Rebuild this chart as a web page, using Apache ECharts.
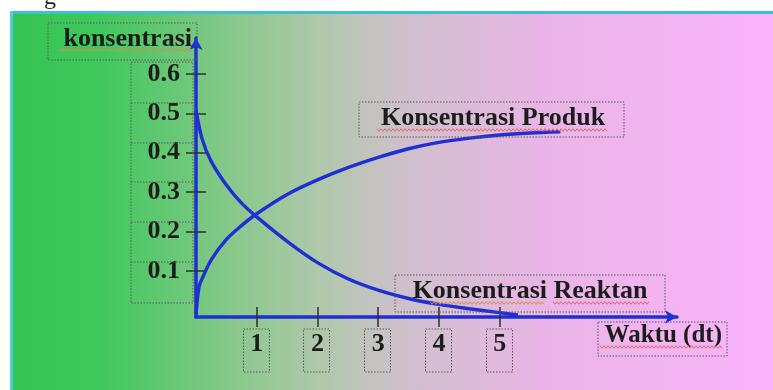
<!DOCTYPE html>
<html><head><meta charset="utf-8">
<script src="https://cdn.jsdelivr.net/npm/echarts@6/dist/echarts.min.js"></script>
<style>html,body{margin:0;padding:0;background:#fff}#c{width:773px;height:390px}</style>
</head><body><div id="c"></div>
<script>
// ---- data ----
const timeReaktan = [0, 0.1, 0.25, 0.5, 0.75, 1, 1.5, 2, 2.5, 3, 3.5, 4, 4.5, 5, 5.3];
const valReaktan  = [0.509, 0.435, 0.378, 0.318, 0.272, 0.237, 0.175, 0.121, 0.080, 0.051, 0.030, 0.015, 0.004, -0.006, -0.012];
const timeProduk  = [0, 0.05, 0.1, 0.25, 0.5, 0.75, 1, 1.5, 2, 2.5, 3, 3.5, 4, 4.5, 5, 5.5, 6];
const valProduk   = [-0.01, 0.06, 0.08, 0.128, 0.180, 0.215, 0.245, 0.294, 0.331, 0.362, 0.388, 0.410, 0.426, 0.437, 0.445, 0.450, 0.453];
const xTicks = [1, 2, 3, 4, 5];
const xTickLabels = ['1', '2', '3', '4', '5'];
const yTicks = [0.1, 0.2, 0.3, 0.4, 0.5, 0.6];
const yTickLabels = ['0.1', '0.2', '0.3', '0.4', '0.5', '0.6'];
const yAxisName = 'konsentrasi';
const xAxisName = 'Waktu (dt)';
const labelProduk = 'Konsentrasi Produk';
const labelReaktan = 'Konsentrasi Reaktan';

const FONT = '"Liberation Serif", "Times New Roman", serif';
const TXT = '#1b1d1b';
const BLUE = '#1f2fd4';
const TICK = '#2a322a';

const chart = echarts.init(document.getElementById('c'), null, {renderer: 'canvas'});

function zip(a, b) { return a.map((v, i) => [v, b[i]]); }

const xMin = 0, xMax = 7.92, yMin = -0.017, yMax = 0.691;

chart.setOption({
  animation: false,
  backgroundColor: '#ffffff',
  grid: {left: 196, top: 38, width: 481, height: 279, containLabel: false},
  xAxis: [{
    type: 'value', min: xMin, max: xMax, position: 'bottom',
    axisLine: {show: true, onZero: false, symbol: ['none', 'arrow'], symbolSize: [10, 12],
      lineStyle: {color: BLUE, width: 3.5}},
    axisTick: {show: true, customValues: xTicks, length: 10, lineStyle: {color: TICK, width: 1.5}},
    axisLabel: {show: true, customValues: xTicks, margin: 14,
      formatter: v => xTickLabels[xTicks.indexOf(v)] ?? '',
      fontFamily: FONT, fontWeight: 'bold', fontSize: 26, color: TXT, lineHeight: 26},
    splitLine: {show: false},
    name: xAxisName, nameLocation: 'end', nameGap: 45,
    nameTextStyle: {fontFamily: FONT, fontWeight: 'bold', fontSize: 25, color: TXT,
      align: 'right', verticalAlign: 'top', lineHeight: 26, padding: [6, 0, 0, 0]}
  }, {
    type: 'value', min: xMin, max: xMax, position: 'bottom',
    axisLine: {show: false, onZero: false},
    axisTick: {show: true, inside: true, customValues: xTicks, length: 10, lineStyle: {color: TICK, width: 1.5}},
    axisLabel: {show: false}, splitLine: {show: false}
  }],
  yAxis: [{
    type: 'value', min: yMin, max: yMax, position: 'left',
    axisLine: {show: true, onZero: false, symbol: ['none', 'arrow'], symbolSize: [10, 12],
      lineStyle: {color: BLUE, width: 3.5}},
    axisTick: {show: true, customValues: yTicks, length: 10, lineStyle: {color: TICK, width: 1.5}},
    axisLabel: {show: true, customValues: yTicks, margin: 16,
      formatter: v => yTickLabels[yTicks.findIndex(t => Math.abs(t - v) < 1e-9)] ?? '',
      fontFamily: FONT, fontWeight: 'bold', fontSize: 26, color: TXT, lineHeight: 26,
      padding: [8, 0, 0, 0]},
    splitLine: {show: false},
    name: yAxisName, nameLocation: 'end', nameGap: -1,
    nameTextStyle: {fontFamily: FONT, fontWeight: 'bold', fontSize: 26, color: TXT,
      align: 'right', verticalAlign: 'middle', padding: [0, 4, 0, 0]}
  }, {
    type: 'value', min: yMin, max: yMax, position: 'left',
    axisLine: {show: false, onZero: false},
    axisTick: {show: true, inside: true, customValues: yTicks, length: 10, lineStyle: {color: TICK, width: 1.5}},
    axisLabel: {show: false}, splitLine: {show: false}
  }],
  series: [{
    name: labelReaktan, type: 'line', xAxisIndex: 0, yAxisIndex: 0,
    data: zip(timeReaktan, valReaktan), smooth: 0.3, showSymbol: false, symbol: 'none',
    lineStyle: {color: BLUE, width: 3.4}, z: 3
  }, {
    name: labelProduk, type: 'line', xAxisIndex: 0, yAxisIndex: 0,
    data: zip(timeProduk, valProduk), smooth: 0.3, showSymbol: false, symbol: 'none',
    lineStyle: {color: BLUE, width: 3.4}, z: 3
  }]
});

// ---- decorations (background, frames, dotted text boxes, spell-check squiggles) ----
function wave(x0, x1, y, amp, period) {
  const pts = [];
  let up = true;
  for (let x = x0; x <= x1; x += period / 2) { pts.push([x, y + (up ? -amp : amp)]); up = !up; }
  return pts;
}
const DOT = {stroke: '#5a5a5a', lineWidth: 1, lineDash: [1.5, 1.5], fill: null};
function box(x, y, w, h) { return {type: 'rect', shape: {x, y, width: w, height: h}, style: Object.assign({}, DOT), z: 5, silent: true}; }
function hline(x0, x1, y) { return {type: 'line', shape: {x1: x0, y1: y, x2: x1, y2: y}, style: Object.assign({}, DOT), z: 5, silent: true}; }
function squiggle(x0, x1, y, color) { return {type: 'polyline', shape: {points: wave(x0, x1, y, 1.3, 4)}, style: {stroke: color, lineWidth: 1, fill: null}, z: 6, silent: true}; }

const g = [];
g.push({type: 'rect', shape: {x: 12, y: 13, width: 761, height: 377}, z: -100, silent: true,
  style: {fill: new echarts.graphic.LinearGradient(0, 0, 1, 0, [
    {offset: 0, color: '#35c553'}, {offset: 0.12, color: '#40c85d'}, {offset: 0.3, color: '#8cc88e'},
    {offset: 0.4, color: '#aec8aa'}, {offset: 0.52, color: '#d0c0cc'}, {offset: 0.7, color: '#e9b5e7'},
    {offset: 1, color: '#fbb3fb'}])}});
g.push({type: 'rect', shape: {x: 10, y: 11, width: 763, height: 3}, style: {fill: '#3fbfcf'}, z: -99, silent: true});
g.push({type: 'rect', shape: {x: 10, y: 11, width: 3, height: 379}, style: {fill: '#4fcfdc'}, z: -99, silent: true});
g.push({type: 'text', x: 44, y: -14, style: {text: 'g', font: '24px ' + FONT, fill: '#222'}, z: -98, silent: true});

// y-axis name box & label column boxes
g.push(box(48, 23, 149, 37));
g.push(squiggle(58, 192, 50, '#d2904a'));
g.push(box(131, 62, 62, 241));
[103, 143, 182, 222, 262].forEach(y => g.push(hline(131, 193, y)));

// x tick label boxes, positioned from the axis scale
xTicks.forEach(v => {
  const px = chart.convertToPixel({xAxisIndex: 0}, v);
  g.push(box(Math.round(px) - 13.5, 329, 26, 43));
});
// x axis name box
g.push(box(598, 322, 129, 34));
g.push(squiggle(600, 722, 347, '#e06a6a'));

// annotations
g.push(box(359, 102, 265, 35));
g.push({type: 'text', x: 493, y: 118, z: 7, silent: true,
  style: {text: labelProduk, font: 'bold 26px ' + FONT, fill: TXT, align: 'center', verticalAlign: 'middle', textAlign: 'center', textVerticalAlign: 'middle'}});
g.push(squiggle(377, 607, 130, '#e06a6a'));

g.push(box(395, 275, 270, 37));
g.push({type: 'text', x: 530, y: 291, z: 7, silent: true,
  style: {text: labelReaktan, font: 'bold 26px ' + FONT, fill: TXT, align: 'center', verticalAlign: 'middle', textAlign: 'center', textVerticalAlign: 'middle'}});
g.push(squiggle(430, 545, 303, '#d9904a'));
g.push(squiggle(553, 650, 303, '#e06a6a'));

chart.setOption({graphic: g});
</script>
</body></html>
